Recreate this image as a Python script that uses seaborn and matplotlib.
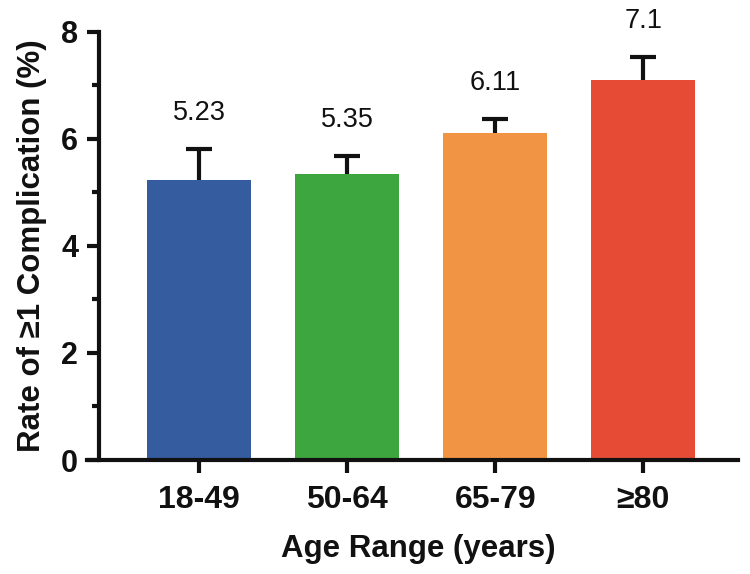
import matplotlib
matplotlib.use("Agg")
import matplotlib.pyplot as plt
import seaborn as sns
import pandas as pd

categories = ["18-49", "50-64", "65-79", "≥80"]
rates = [5.23, 5.35, 6.11, 7.1]
errors_up = [0.58, 0.33, 0.27, 0.43]
value_labels = ["5.23", "5.35", "6.11", "7.1"]
colors = ["#355C9E", "#3DA63E", "#F19443", "#E64C35"]

sns.set_style("ticks")
plt.rcParams["font.family"] = ["Liberation Sans", "DejaVu Sans"]

df = pd.DataFrame({"age": categories, "rate": rates})

fig = plt.figure(figsize=(7.5, 5.74), dpi=100)
ax = fig.add_axes([0.132, 0.1986, 0.852, 0.7457])

sns.barplot(data=df, x="age", y="rate", hue="age", palette=colors,
            legend=False, width=0.70, ax=ax, saturation=1)
for p in ax.patches:
    p.set_zorder(5)
    p.set_linewidth(0)

xs = list(range(len(categories)))
ax.errorbar(xs, rates, yerr=errors_up, fmt="none",
            ecolor="#111111", elinewidth=3, capsize=9.5, capthick=3, zorder=2)

for x, r, e, lab in zip(xs, rates, errors_up, value_labels):
    ax.annotate(lab, (x, r + e), xytext=(0, 26), textcoords="offset points",
                ha="center", va="center", fontsize=19.5, color="#111111",
                annotation_clip=False)

xl = (-0.676, 3.64)
ax.set_xlim(*xl)
ax.set_ylim(0, 8)
ax.set_yticks([0, 2, 4, 6, 8])
ax.set_yticks([1, 3, 5, 7], minor=True)

for s in ["top", "right"]:
    ax.spines[s].set_visible(False)
for s in ["left", "bottom"]:
    ax.spines[s].set_linewidth(3)
    ax.spines[s].set_color("#111111")
    ax.spines[s].set_zorder(6)
ax.spines["bottom"].set_bounds(xl[0] - 0.08, xl[1])

ax.tick_params(axis="y", which="major", length=9, width=3, color="#111111",
               labelsize=22, pad=6)
ax.tick_params(axis="y", which="minor", length=5, width=3, color="#111111")
ax.tick_params(axis="x", which="major", length=9, width=3, color="#111111",
               labelsize=23, pad=9)
for t in ax.get_yticklabels() + ax.get_xticklabels():
    t.set_fontweight("bold")
    t.set_color("#111111")

ax.set_xlabel("Age Range (years)", fontsize=22.5, fontweight="bold",
              labelpad=14, color="#111111")
ax.set_ylabel("Rate of ≥1 Complication (%)", fontsize=22.5, fontweight="bold",
              labelpad=10, color="#111111")

fig.savefig("out.png", dpi=100)
